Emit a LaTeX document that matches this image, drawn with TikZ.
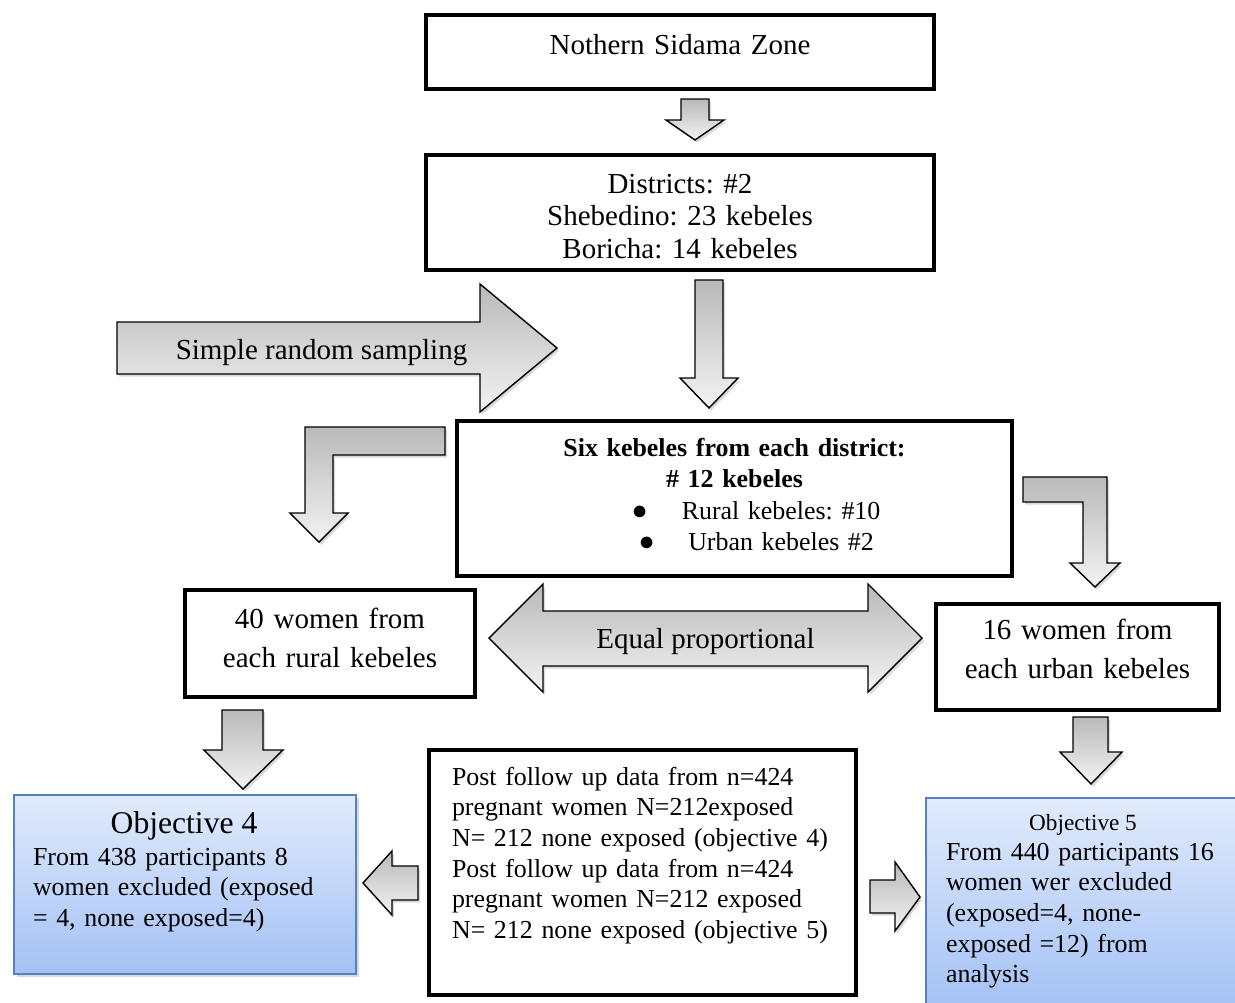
\documentclass[tikz,border=0pt]{standalone}
\usepackage{fontspec}
\setmainfont{Liberation Serif}
\usetikzlibrary{shadows}
\frenchspacing

\definecolor{arrowtop}{RGB}{185,185,185}
\definecolor{arrowbot}{RGB}{243,243,243}
\definecolor{objtop}{RGB}{225,235,252}
\definecolor{objbot}{RGB}{163,193,245}
\definecolor{objline}{RGB}{84,130,190}

\newcommand{\bodysize}{\fontsize{14.75pt}{17.5pt}\selectfont}
\newcommand{\bigsize}{\fontsize{16.5pt}{18.5pt}\selectfont}
\newcommand{\bigdot}{{\fontsize{19pt}{18pt}\selectfont$\bullet$}}

\tikzset{
  box/.style={draw, fill=white, line width=2.2pt, inner xsep=0pt, inner ysep=0pt,
    align=center, anchor=base, drop shadow={shadow xshift=1pt, shadow yshift=-1pt, opacity=0.2}},
  objbox/.style={draw=objline, line width=1pt, top color=objtop, bottom color=objbot,
    inner ysep=0pt, align=left, anchor=base, font=\bodysize,
    drop shadow={shadow xshift=1.5pt, shadow yshift=-1.5pt, opacity=0.3}},
  blockarrow/.style={draw, line width=0.8pt, top color=arrowtop, bottom color=arrowbot,
    drop shadow={shadow xshift=1.2pt, shadow yshift=-1.5pt, opacity=0.3}},
  txt/.style={inner sep=0pt, anchor=base}
}

\begin{document}
\begin{tikzpicture}[x=0.02cm, y=-0.02cm]
\useasboundingbox (0,0) rectangle (1235,1002);
\clip (0,0) rectangle (1235,1002);

% boxes
\node[box, text width=10.16cm, text height=0.78cm, text depth=0.70cm, font=\bigsize] (zone) at (680,54) {Nothern Sidama Zone};
\node[box, text width=10.16cm, text height=0.76cm, text depth=1.54cm, font=\bigsize] (dist) at (680,193) {Districts: \#2\\ Shebedino: 23 kebeles\\ Boricha: 14 kebeles};
\node[box, text width=11.1cm, text height=0.70cm, text depth=2.40cm, font=\fontsize{14.75pt}{18pt}\selectfont] (six) at (734.5,456)
  {\textbf{Six kebeles from each district:}\\ \textbf{\# 12 kebeles}\\
   \hspace*{0.88cm}\bigdot\hspace{0.68cm}Rural kebeles: \#10\\
   \hspace*{0.88cm}\bigdot\hspace{0.68cm}Urban kebeles \#2};
\node[box, text width=5.8cm, text height=0.76cm, text depth=1.38cm, font=\fontsize{16.5pt}{22.2pt}\selectfont] (rural) at (330,628) {40 women from\\ each rural kebeles};
\node[box, text width=5.66cm, text height=0.70cm, text depth=1.42cm, font=\fontsize{16.5pt}{22.2pt}\selectfont] (urban) at (1077.5,639) {16 women from\\ each urban kebeles};
\node[box, align=left, inner xsep=0.46cm, text width=7.62cm, text height=0.70cm, text depth=4.20cm, font=\bodysize] (post) at (642.5,785)
  {Post follow up data from n=424\\ pregnant women N=212exposed\\ \mbox{N= 212 none exposed (objective 4)}\\
   Post follow up data from n=424\\ pregnant women N=212 exposed\\ \mbox{N= 212 none exposed (objective 5)}};

% objectives
\node[objbox, inner xsep=0.38cm, text width=6.08cm, text height=1.40cm, text depth=2.18cm] (obj4) at (185,865)
  {From 438 participants 8\\ women excluded (exposed\\ = 4, none exposed=4)};
\node[txt, font=\fontsize{18pt}{21pt}\selectfont] (obj4title) at (184,833) {Objective 4};
\node[objbox, inner xsep=0.40cm, text width=6.0cm, text height=1.24cm, text depth=3.0cm] (obj5) at (1096,860)
  {From 440 participants 16\\ women wer excluded\\ (exposed=4, none-\\ exposed =12) from\\ analysis};
\node[txt, font=\fontsize{13.2pt}{15pt}\selectfont] (obj5title) at (1083,830) {Objective 5};

% block arrows
\draw[blockarrow] (681,99) -- (709,99) -- (709,120) -- (724,120) -- (695,140) -- (666,120) -- (681,120) -- cycle;
\draw[blockarrow] (695,280) -- (723,280) -- (723,378) -- (738,378) -- (709,408) -- (680,378) -- (695,378) -- cycle;
\draw[blockarrow] (117,322) -- (480,322) -- (480,284) -- (557,348) -- (480,412) -- (480,374) -- (117,374) -- cycle;
\node[txt, font=\bigsize] (srs) at (321.5,359) {Simple random sampling};
\draw[blockarrow] (445,427) -- (305,427) -- (305,513) -- (290,513) -- (319,542) -- (348,513) -- (333,513) -- (333,455) -- (445,455) -- cycle;
\draw[blockarrow] (1023,477) -- (1107,477) -- (1107,563) -- (1120,563) -- (1095,587) -- (1070,563) -- (1083,563) -- (1083,502) -- (1023,502) -- cycle;
\draw[blockarrow] (489,638) -- (543,584) -- (543,611) -- (868,611) -- (868,584) -- (922,638) -- (868,692) -- (868,666) -- (543,666) -- (543,692) -- cycle;
\node[txt, font=\bigsize] (eqp) at (705.5,648) {Equal proportional};
\draw[blockarrow] (222,710) -- (263,710) -- (263,750) -- (283,750) -- (243,789) -- (204,750) -- (222,750) -- cycle;
\draw[blockarrow] (1073,717) -- (1108,717) -- (1108,752) -- (1122,752) -- (1091,784) -- (1060,752) -- (1073,752) -- cycle;
\draw[blockarrow] (418,866) -- (392,866) -- (392,851) -- (363,883) -- (392,915) -- (392,900) -- (418,900) -- cycle;
\draw[blockarrow] (870,880) -- (895,880) -- (895,862) -- (920,897) -- (895,931) -- (895,913) -- (870,913) -- cycle;
\end{tikzpicture}
\end{document}
